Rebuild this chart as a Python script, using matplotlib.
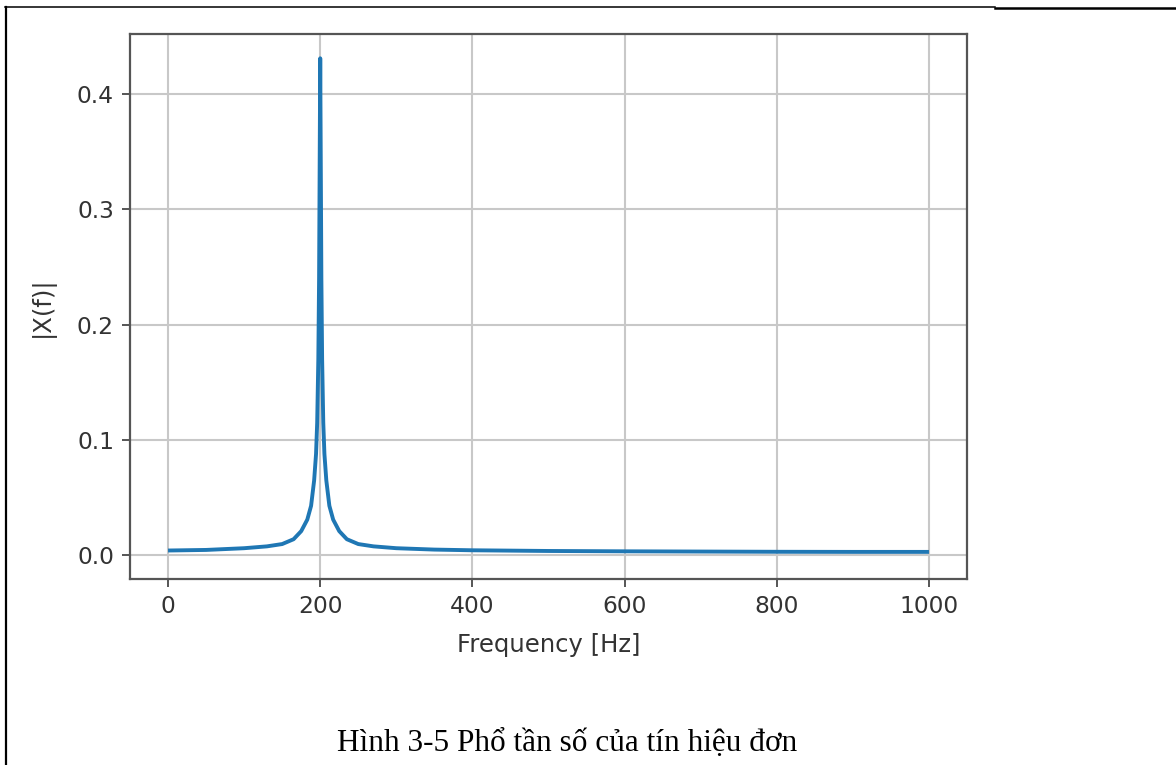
import matplotlib
matplotlib.use("Agg")
import matplotlib.pyplot as plt
from matplotlib.lines import Line2D

plt.rcParams["font.family"] = ["DejaVu Sans"]

# ---- data ----
freq = [0, 50, 100, 130, 150, 165, 175, 183, 188, 192, 194.5, 196, 197.5, 198.5,
        199.2, 200, 200.8, 201.5, 202.5, 204, 205.5, 208, 212, 217, 225, 235, 250,
        270, 300, 350, 400, 500, 600, 700, 800, 900, 1000]
mag = [0.0042, 0.0047, 0.0062, 0.0078, 0.0098, 0.014, 0.021, 0.031, 0.043, 0.065,
       0.088, 0.115, 0.17, 0.24, 0.33, 0.431, 0.33, 0.24, 0.17, 0.115, 0.088, 0.065,
       0.043, 0.031, 0.021, 0.014, 0.0098, 0.0078, 0.0062, 0.0050, 0.0044, 0.0038,
       0.0035, 0.0033, 0.0031, 0.0030, 0.0030]
xticks = [0, 200, 400, 600, 800, 1000]
yticks = [0.0, 0.1, 0.2, 0.3, 0.4]
xlabel = "Frequency [Hz]"
ylabel = "|X(f)|"
caption = "Hình 3-5 Phổ tần số của tín hiệu đơn"

W, H = 1176, 765
fig = plt.figure(figsize=(W / 100, H / 100), dpi=100)
fig.patch.set_facecolor("white")

ax = fig.add_axes([130 / W, 1 - 579 / H, (967 - 130) / W, (579 - 33.5) / H])
ax.plot(freq, mag, color="#1f77b4", lw=2.8, solid_capstyle="butt")
ax.set_xlim(-50, 1050)
ax.set_ylim(-0.0205, 0.4525)
ax.set_xticks(xticks)
ax.set_yticks(yticks)
ax.set_xticklabels([str(v) for v in xticks])
ax.set_yticklabels([f"{v:.1f}" for v in yticks])
ax.grid(True, color="#c8c8c8", lw=1.5)
for s in ax.spines.values():
    s.set_color("#555555")
    s.set_linewidth(1.6)
ax.tick_params(axis="both", labelsize=16.8, colors="#555555", labelcolor="#333333",
               length=6, width=1.4, pad=5.5)
ax.set_xlabel(xlabel, fontsize=17.5, color="#333333", labelpad=11)
ax.set_ylabel(ylabel, fontsize=17.5, color="#333333", labelpad=16)

# caption
fig.text(567 / W, 1 - 751 / H, caption, family="Liberation Serif", fontsize=22.5,
         ha="center", va="baseline", color="black")

# document border lines
fig.add_artist(Line2D([6 / W, 6 / W], [0, 1 - 7 / H], transform=fig.transFigure,
                      color="black", lw=1.6))
fig.add_artist(Line2D([5 / W, 995 / W], [1 - 7 / H, 1 - 7 / H], transform=fig.transFigure,
                      color="black", lw=1.1))
fig.add_artist(Line2D([995 / W, 1], [1 - 8 / H, 1 - 8 / H], transform=fig.transFigure,
                      color="black", lw=1.8))

fig.savefig("out.png", dpi=100)
